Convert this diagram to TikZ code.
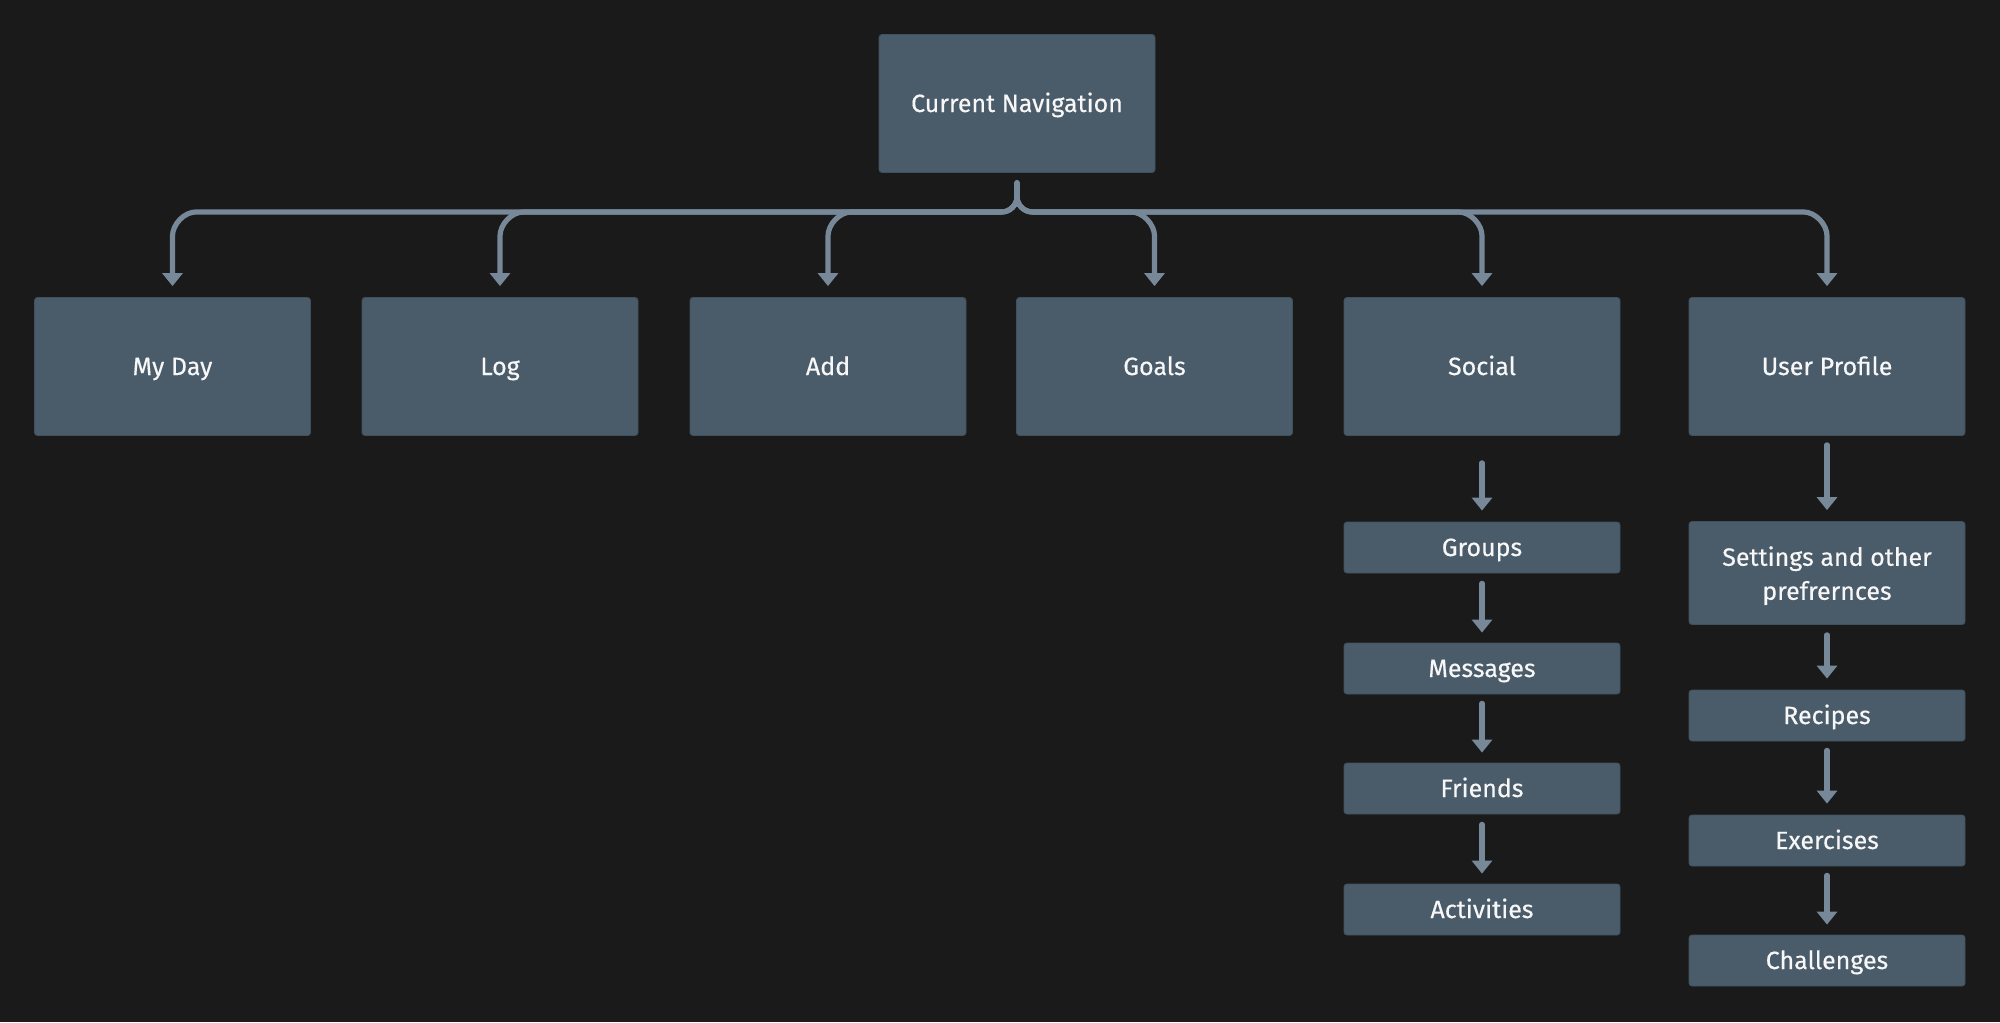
\documentclass[tikz,border=0pt]{standalone}
\usepackage{fontspec}
\setmainfont{Fira Sans}
\newfontfamily\nodefont{Fira Sans}[FakeBold=0.35]
\usetikzlibrary{arrows.meta,calc}
\definecolor{bg}{HTML}{1A1A1A}
\definecolor{boxfill}{HTML}{4A5B6A}
\definecolor{linec}{HTML}{778899}
\definecolor{txt}{HTML}{F7F7F7}
\begin{document}
\begin{tikzpicture}[x=0.5pt,y=-0.5pt,
  basebox/.style={fill=boxfill, draw=boxfill!88!black, line width=0.4pt, rounded corners=1.5pt,
    minimum width=138pt, minimum height=69pt, inner sep=0pt, text=txt,
    font=\nodefont\fontsize{12.5}{17}\selectfont, align=center},
  navbox/.style={basebox, text height=0.85em, text depth=0pt},
  subbox/.style={navbox, minimum height=25.5pt},
  conn/.style={draw=linec, line width=2.6pt, line cap=round, -{Triangle[width=10pt,length=6.5pt]}}
]
\fill[bg] (0,0) rectangle (2000,1022);
\useasboundingbox (0,0) rectangle (2000,1022);

\node[navbox] (nav) at (1017,103.5) {Current Navigation};
\node[navbox] (myday) at (172.5,366.5) {My Day};
\node[navbox] (log) at (500,366.5) {Log};
\node[navbox] (add) at (828,366.5) {Add};
\node[navbox] (goals) at (1154.5,366.5) {Goals};
\node[navbox] (social) at (1482,366.5) {Social};
\node[navbox] (up) at (1827,366.5) {User Profile};

\node[subbox] (groups) at (1482,547.5) {Groups};
\node[subbox] (messages) at (1482,668.5) {Messages};
\node[subbox] (friends) at (1482,788.5) {Friends};
\node[subbox] (activities) at (1482,909.5) {Activities};

\node[basebox, minimum height=51.5pt, text depth=0pt] (settings) at (1827,573) {Settings and other\\prefrernces};
\node[subbox] (recipes) at (1827,715.5) {Recipes};
\node[subbox] (exercises) at (1827,840.5) {Exercises};
\node[subbox] (challenges) at (1827,960.5) {Challenges};

\coordinate (hub) at ($(nav.south)+(0,10)$);
\foreach \t/\s in {myday/-1, log/-1, add/-1, goals/1, social/1, up/1} {
  \draw[conn] (hub) -- ($(hub)+(0,14)$)
    .. controls ($(hub)+(0,22)$) and ($(hub)+(\s*7,29)$) .. ($(hub)+(\s*15,29)$)
    -- ($(\t.north |- hub)+(\s*-24,29)$)
    .. controls ($(\t.north |- hub)+(\s*-11,29)$) and ($(\t.north |- hub)+(0,42)$) .. ($(\t.north |- hub)+(0,53)$)
    -- ($(\t.north)+(0,-11)$);
}

\draw[conn] ($(social.south)+(0,27)$) -- ($(groups.north)+(0,-11)$);
\draw[conn] ($(groups.south)+(0,10)$) -- ($(messages.north)+(0,-10)$);
\draw[conn] ($(messages.south)+(0,9)$) -- ($(friends.north)+(0,-10)$);
\draw[conn] ($(friends.south)+(0,10)$) -- ($(activities.north)+(0,-10)$);

\draw[conn] ($(up.south)+(0,9)$) -- ($(settings.north)+(0,-11)$);
\draw[conn] ($(settings.south)+(0,10)$) -- ($(recipes.north)+(0,-11)$);
\draw[conn] ($(recipes.south)+(0,9)$) -- ($(exercises.north)+(0,-11)$);
\draw[conn] ($(exercises.south)+(0,9)$) -- ($(challenges.north)+(0,-10)$);
\end{tikzpicture}
\end{document}
